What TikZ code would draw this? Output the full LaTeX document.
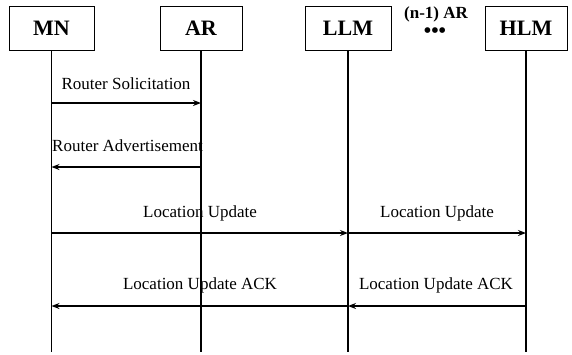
\documentclass[tikz,border=0pt]{standalone}
\usepackage{fontspec}
\setmainfont{Liberation Serif}
\usetikzlibrary{arrows.meta}
\begin{document}
\begin{tikzpicture}[x=1pt,y=-1pt,
  entity/.style={draw,line width=0.9pt,minimum height=44pt,inner sep=0pt,font=\fontsize{22}{24}\selectfont\bfseries},
  life/.style={line width=1.6pt},
  msg/.style={line width=1.4pt,-{Stealth[length=8pt,width=6pt]}},
  lbl/.style={font=\fontsize{17}{19}\selectfont,inner sep=0pt}]
\useasboundingbox (0,0) rectangle (572,354);
% entities
\node[entity,minimum width=85pt] (MN) at (51.5,28) {MN};
\node[entity,minimum width=82pt] (AR) at (201,28) {AR};
\node[entity,minimum width=86pt] (LLM) at (348,28) {LLM};
\node[entity,minimum width=82pt] (HLM) at (526,28) {HLM};
\node[font=\fontsize{17}{19}\selectfont\bfseries,inner sep=0pt] (nar) at (436,14) {(n-1) AR};
\node[font=\fontsize{21}{22}\selectfont\bfseries,inner sep=0pt] (dots) at (435,33) {•••};
% lifeline ends
\coordinate (MNe) at (52,352);
\coordinate (ARe) at (202,352);
\coordinate (LLMe) at (349,352);
\coordinate (HLMe) at (527,352);
\draw[life] (MN.south) -- (MN.south |- MNe);
\draw[life] (AR.south) -- (AR.south |- ARe);
\draw[life] (LLM.south) -- (LLM.south |- LLMe);
\draw[life] (HLM.south) -- (HLM.south |- HLMe);
% message levels
\coordinate (y1) at (0,103);
\coordinate (y2) at (0,167);
\coordinate (y3) at (0,233);
\coordinate (y4) at (0,306);
\draw[msg] (MN.south |- y1) -- (AR.south |- y1);
\draw[msg] (AR.south |- y2) -- (MN.south |- y2);
\draw[msg] (MN.south |- y3) -- (LLM.south |- y3);
\draw[msg] (LLM.south |- y3) -- (HLM.south |- y3);
\draw[msg] (LLM.south |- y4) -- (MN.south |- y4);
\draw[msg] (HLM.south |- y4) -- (LLM.south |- y4);
% labels
\node[lbl] (l1) at (126,84) {Router Solicitation};
\node[lbl] (l2) at (127.5,146) {Router Advertisement};
\node[lbl] (l3) at (200,213) {Location Update};
\node[lbl] (l4) at (437,213) {Location Update};
\node[lbl] (l5) at (200,285) {Location Update ACK};
\node[lbl] (l6) at (436,285) {Location Update ACK};
\end{tikzpicture}
\end{document}
